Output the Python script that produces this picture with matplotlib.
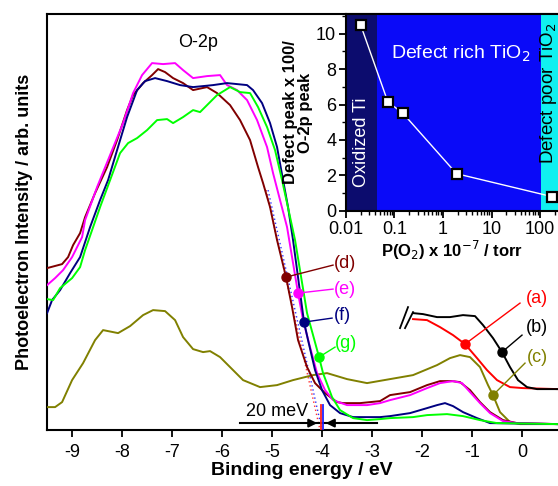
import numpy as np
import matplotlib
matplotlib.use("Agg")
import matplotlib.pyplot as plt
from matplotlib.ticker import FixedLocator, FuncFormatter, LogLocator, NullFormatter, MultipleLocator

plt.rcParams["font.family"] = ["Liberation Sans", "DejaVu Sans"]
plt.rcParams["font.size"] = 13
plt.rcParams["axes.linewidth"] = 1.5

# --- main panel: valence band spectra (binding energy in eV, intensity arb.)
e_d = [-9.5, -9.2, -9.08, -8.98, -8.84, -8.74, -8.54, -8.3, -8.1, -7.9, -7.78, -7.58, -7.4, -7.28,
       -7.14, -6.98, -6.78, -6.58, -6.3, -6.1, -5.84, -5.64, -5.44, -5.28, -5.18, -5.04, -4.9,
       -4.72, -4.6, -4.48, -4.3, -4.14, -3.94, -3.7, -3.58, -3.24, -2.84, -2.64, -2.24, -1.9,
       -1.64, -1.4, -1.24, -1.04, -0.84, -0.64, -0.38, -0.1, 0.72]
i_d = [162, 166, 173, 185, 197, 213, 237, 263, 290, 320, 335, 347, 355, 361,
       358, 352, 347, 340, 343, 337, 325, 310, 290, 263, 247, 223, 190,
       153, 123, 90, 63, 47, 37, 28, 27, 27, 29, 35, 38, 45,
       49, 49, 48, 40, 28, 18, 10, 7, 6]

e_e = [-9.5, -9.34, -9.18, -9.0, -8.8, -8.74, -8.5, -8.2, -7.98, -7.78, -7.6, -7.4, -7.18, -6.94,
       -6.78, -6.58, -6.3, -6.04, -5.9, -5.7, -5.5, -5.3, -5.1, -4.98, -4.84, -4.7, -4.48, -4.38,
       -4.24, -4.1, -3.94, -3.78, -3.5, -3.1, -2.84, -2.64, -2.24, -1.9, -1.64, -1.38, -1.2,
       -1.04, -0.84, -0.64, -0.38, -0.1, 0.72]
i_e = [145, 152, 160, 173, 193, 210, 243, 280, 307, 337, 355, 367, 366, 367,
       360, 352, 354, 355, 345, 340, 330, 310, 283, 257, 230, 203, 137, 110,
       83, 57, 40, 30, 25, 25, 27, 30, 35, 42, 47, 49, 47,
       38, 27, 17, 9, 7, 6]

e_f = [-9.5, -9.4, -9.24, -9.04, -8.84, -8.64, -8.44, -8.28, -8.1, -7.9, -7.7, -7.54, -7.34, -7.1,
       -6.84, -6.58, -6.18, -5.9, -5.5, -5.38, -5.2, -5.04, -4.9, -4.78, -4.68, -4.58, -4.36,
       -4.28, -4.14, -4.0, -3.84, -3.64, -3.38, -2.84, -2.64, -2.24, -1.9, -1.7, -1.54, -1.38,
       -1.18, -0.9, -0.64, 0.72]
i_f = [117, 130, 140, 157, 173, 203, 230, 250, 280, 313, 340, 349, 352, 349,
       345, 343, 345, 347, 345, 340, 327, 307, 283, 250, 223, 190, 108,
       90, 60, 40, 25, 17, 13, 13, 14, 17, 22, 25, 27, 24,
       18, 12, 7, 6]

e_g = [-9.5, -9.38, -9.24, -9.0, -8.84, -8.74, -8.6, -8.44, -8.24, -8.04, -7.88, -7.7, -7.5, -7.3,
       -7.1, -6.98, -6.78, -6.58, -6.44, -6.3, -6.1, -5.84, -5.64, -5.44, -5.28, -5.1, -4.94,
       -4.8, -4.7, -4.54, -4.3, -4.06, -3.98, -3.8, -3.64, -3.38, -3.1, -2.84, -2.64, -2.18,
       -1.9, -1.5, -1.18, -0.84, -0.5, 0.72]
i_g = [131, 130, 142, 152, 163, 180, 200, 223, 250, 277, 287, 292, 300, 310,
       311, 307, 313, 320, 318, 325, 335, 343, 338, 337, 323, 303, 280,
       250, 227, 190, 117, 73, 57, 33, 20, 12, 10, 11, 12, 13,
       15, 16, 14, 10, 7, 6]

e_c = [-9.5, -9.34, -9.2, -9.0, -8.78, -8.54, -8.38, -8.08, -7.84, -7.58, -7.38, -7.14, -6.94,
       -6.78, -6.58, -6.38, -6.24, -6.04, -5.84, -5.58, -5.24, -4.9, -4.58, -4.18, -3.9, -3.5,
       -3.1, -2.64, -2.18, -1.7, -1.44, -1.24, -1.04, -0.84, -0.68, -0.58, -0.44, -0.24, -0.04, 0.72]
i_c = [23, 23, 28, 50, 67, 90, 100, 97, 104, 115, 120, 119, 110,
       93, 81, 78, 79, 73, 63, 50, 43, 45, 50, 55, 57, 51,
       47, 51, 55, 65, 72, 75, 73, 63, 45, 35, 18, 8, 6, 6]

e_b = [-2.18, -1.98, -1.7, -1.44, -1.18, -0.94, -0.78, -0.58, -0.4, -0.24, -0.08, 0.1, 0.3, 0.72]
i_b = [117, 116, 113, 113, 115, 114, 105, 92, 78, 63, 50, 43, 41, 41]

e_a = [-2.18, -1.9, -1.64, -1.38, -1.14, -0.9, -0.7, -0.5, -0.24, 0.02, 0.72]
i_a = [111, 110, 103, 95, 86, 72, 60, 50, 43, 42, 41]

labels = ["(a)", "(b)", "(c)", "(d)", "(e)", "(f)", "(g)"]
marker_e = [-1.14, -0.40, -0.58, -4.72, -4.48, -4.36, -4.06]
label_end = [(-0.04, 127), (0.0, 95), (0.06, 67), (-3.78, 165), (-3.78, 141), (-3.8, 112), (-3.74, 83)]
label_pos = [(0.3, 132), (0.3, 103), (0.3, 73), (-3.54, 167), (-3.54, 141), (-3.6, 115), (-3.52, 87)]

# --- inset: defect / O-2p ratio vs oxygen pressure
p_o2 = [0.02, 0.073, 0.15, 1.9, 180]
ratio = [10.5, 6.15, 5.5, 2.1, 0.8]
band_edges = [0.01, 0.044, 105, 1000]

curves = [
    (e_a, i_a, "#ff0000"),
    (e_b, i_b, "#000000"),
    (e_c, i_c, "#808000"),
    (e_d, i_d, "#800000"),
    (e_e, i_e, "#ff00ff"),
    (e_f, i_f, "#000080"),
    (e_g, i_g, "#00ff00"),
]

fig = plt.figure(figsize=(5.58, 4.86), dpi=100)
ax = fig.add_axes([0.0835, 0.115, 0.9165, 0.856])

for (en, it, col) in curves:
    ax.plot(en, it, color=col, lw=1.4, zorder=3)

for lab, (en, it, col), me, le, lp in zip(labels, curves, marker_e, label_end, label_pos):
    my = np.interp(me, en, it)
    ax.plot([me, le[0]], [my, le[1]], color=col, lw=1.0, zorder=4)
    ax.plot(me, my, "o", color=col, ms=6.5, zorder=5)
    ax.text(lp[0], lp[1], lab, color=col, fontsize=13, ha="center", va="center")

# break marks on the (a)/(b) reference curves
ax.plot([-2.44, -2.28], [102, 123], color="k", lw=1.3)
ax.plot([-2.34, -2.18], [102, 118], color="k", lw=1.3)

# leading-edge extrapolations
ax.plot([-5.12, -4.04], [240, 0], color="#ff3030", lw=1.0, ls=(0, (1, 2)), zorder=2)
ax.plot([-5.08, -4.0], [240, 0], color="#3030ff", lw=1.0, ls=(0, (1, 2)), zorder=2)
ax.plot([-4.03, -4.03], [0, 25], color="#ff2020", lw=1.3, zorder=4)
ax.plot([-3.99, -3.99], [0, 25], color="#2020ff", lw=1.3, zorder=4)

# 20 meV shift marker
ax.plot([-5.64, -2.9], [7, 7], color="k", lw=1.5)
ax.annotate("", xy=(-4.04, 7), xytext=(-4.35, 7),
            arrowprops=dict(arrowstyle="-|>", color="k", lw=1.5, mutation_scale=12))
ax.annotate("", xy=(-3.98, 7), xytext=(-3.67, 7),
            arrowprops=dict(arrowstyle="-|>", color="k", lw=1.5, mutation_scale=12))
ax.text(-4.9, 19, "20 meV", fontsize=13, ha="center", va="center")

ax.text(-6.48, 388, "O-2p", fontsize=13, ha="center", va="center")

ax.set_xlim(-9.51, 0.72)
ax.set_ylim(0, 416)
ax.set_xticks(np.arange(-9, 1, 1))
ax.set_xticklabels([f"{v}" for v in range(-9, 1)])
ax.set_yticks([])
ax.tick_params(axis="x", direction="out", length=5, width=1.3, labelsize=13, pad=5)
ax.spines["right"].set_visible(False)
ax.set_xlabel("Binding energy / eV", fontsize=14, fontweight="bold", labelpad=1)
ax.set_ylabel("Photoelectron Intensity / arb. units", fontsize=13, fontweight="bold", labelpad=10)

# --- inset
ins = fig.add_axes([0.62, 0.566, 0.38, 0.405])
ins.set_xscale("log")
ins.set_xlim(0.01, 234)
ins.set_ylim(0, 11.1)
band_cols = ["#0c0c6e", "#0a0af8", "#10f0f0"]
for lo, hi, bc in zip(band_edges[:-1], band_edges[1:], band_cols):
    ins.axvspan(lo, hi, color=bc, lw=0, zorder=0)

ins.plot(p_o2, ratio, color="white", lw=1.0, zorder=2)
ins.plot(p_o2, ratio, "s", ms=7.5, mfc="white", mec="black", mew=1.6, zorder=3, clip_on=False)

ins.text(0.542, 0.80, "Defect rich TiO$_2$", transform=ins.transAxes, color="white",
         fontsize=14, ha="center", va="center")
ins.text(0.075, 0.35, "Oxidized Ti", transform=ins.transAxes, color="white",
         fontsize=13, ha="center", va="center", rotation=90)
ins.text(0.955, 0.60, "Defect poor TiO$_2$", transform=ins.transAxes, color="black",
         fontsize=13.5, ha="center", va="center", rotation=90)

ins.xaxis.set_major_locator(FixedLocator([0.01, 0.1, 1, 10, 100]))
ins.xaxis.set_major_formatter(FuncFormatter(lambda v, _: f"{v:g}"))
ins.xaxis.set_minor_locator(LogLocator(base=10, subs=np.arange(2, 10), numticks=20))
ins.xaxis.set_minor_formatter(NullFormatter())
ins.yaxis.set_major_locator(MultipleLocator(2))
ins.yaxis.set_minor_locator(MultipleLocator(1))
ins.tick_params(which="major", direction="out", length=5, width=1.3, labelsize=13, pad=2)
ins.tick_params(which="minor", direction="out", length=3, width=1.0)
ins.spines["right"].set_visible(False)
ins.set_xlabel("P(O$_2$) x 10$^{-7}$ / torr", fontsize=12, fontweight="bold", labelpad=1)
ins.set_ylabel("Defect peak x 100/\nO-2p peak", fontsize=12, fontweight="bold", labelpad=2,
               linespacing=1.0)

fig.savefig("out.png", dpi=100)
